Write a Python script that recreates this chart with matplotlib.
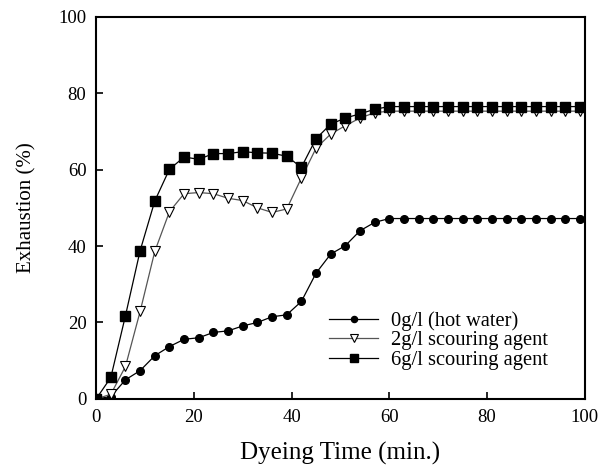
import numpy as np
import matplotlib
matplotlib.use("Agg")
import matplotlib.pyplot as plt

# Temps de teinture (min), un point toutes les 3 min
time = list(range(0, 100, 3))

hot_water = [0, 0.6, 5.0, 7.4, 11.3, 13.7, 15.6, 16.0, 17.4, 17.8, 19.1, 20.0,
             21.5, 22.0, 25.5, 32.9, 37.9, 40.1, 44.0, 46.2] + [47.2] * 14
scour_2g = [0, 1.2, 8.5, 22.9, 38.6, 49.0, 53.7, 54.0, 53.7, 52.5, 51.9, 50.0,
            48.8, 49.7, 57.8, 65.6, 69.3, 71.5, 73.5, 74.9] + [75.3] * 14
scour_6g = [0, 5.6, 21.8, 38.8, 51.8, 60.1, 63.3, 62.7, 64.2, 64.2, 64.7, 64.4,
            64.3, 63.5, 60.6, 68.1, 71.9, 73.5, 74.6, 75.8] + [76.5] * 14

labels = ["0g/l (hot water)", "2g/l scouring agent", "6g/l scouring agent"]

plt.rcParams["font.family"] = ["Liberation Serif", "DejaVu Serif"]

fig = plt.figure(figsize=(6.01, 4.66), dpi=100)
ax = fig.add_axes([0.16, 0.144, 0.813, 0.82])

ax.plot(time, hot_water, color="black", lw=0.9, marker="o", ms=5.5,
        mfc="black", mec="black", label=labels[0])
ax.plot(time, scour_2g, color="#555555", lw=0.9, marker="v", ms=7.5,
        mfc="white", mec="black", mew=0.8, label=labels[1])
ax.plot(time, scour_6g, color="black", lw=0.9, marker="s", ms=7,
        mfc="black", mec="black", label=labels[2])

ax.set_xlim(0, 100)
ax.set_ylim(0, 100)
ax.set_xticks(range(0, 101, 20))
ax.set_yticks(range(0, 101, 20))
ax.tick_params(direction="in", length=5, width=1.2, labelsize=13.5, pad=7)
for s in ax.spines.values():
    s.set_linewidth(1.5)

ax.set_xlabel("Dyeing Time (min.)", fontsize=18, labelpad=12)
ax.set_ylabel("Exhaustion (%)", fontsize=15, labelpad=16)

ax.legend(loc="lower right", bbox_to_anchor=(0.962, 0.028), frameon=False,
          fontsize=14.8, handlelength=2.4, labelspacing=0.0, handletextpad=0.6,
          markerscale=0.8)

fig.savefig("out.png", dpi=100)
